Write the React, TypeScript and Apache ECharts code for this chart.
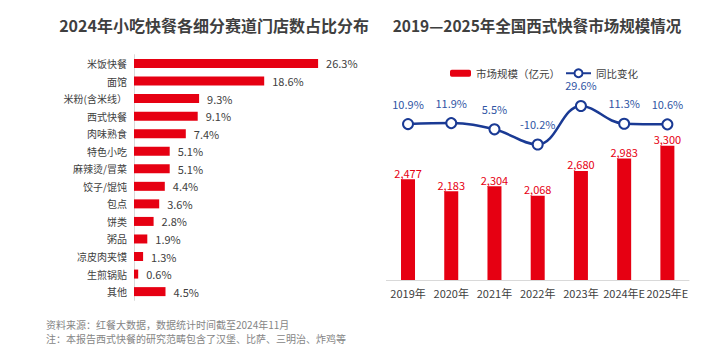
import React, { useEffect, useRef } from "react";
import * as echarts from "echarts";

const snackCategories = [
  "米饭快餐", "面馆", "米粉(含米线）", "西式快餐", "肉味熟食", "特色小吃", "麻辣烫/冒菜",
  "饺子/馄饨", "包点", "饼类", "粥品", "凉皮肉夹馍", "生煎锅贴", "其他",
];
const snackShares = [26.3, 18.6, 9.3, 9.1, 7.4, 5.1, 5.1, 4.4, 3.6, 2.8, 1.9, 1.3, 0.6, 4.5];

const years = ["2019年", "2020年", "2021年", "2022年", "2023年", "2024年E", "2025年E"];
const marketSize = [2477, 2183, 2304, 2068, 2680, 2983, 3300];
const yoyChange = [10.9, 11.9, 5.5, -10.2, 29.6, 11.3, 10.6];

const FONT = "'Noto Sans CJK SC', 'Noto Sans', sans-serif";
const RED = "#e60012";
const BLUE = "#1a3a94";
const TEXT = "#404040";

export default function App() {
  const ref = useRef<HTMLDivElement>(null);
  useEffect(() => {
    if (!ref.current) return;
    const chart = echarts.init(ref.current, undefined, { renderer: "svg" });
    chart.setOption({
      animation: false,
      textStyle: { fontFamily: FONT },
      graphic: [
        {
          type: "text", x: 214, y: 25,
          style: { text: "2024年小吃快餐各细分赛道门店数占比分布", font: `bold 16px ${FONT}`, fill: "#3f3f3f", textAlign: "center", textVerticalAlign: "middle" },
        },
        {
          type: "text", x: 537, y: 25,
          style: { text: "2019—2025年全国西式快餐市场规模情况", font: `bold 15.5px ${FONT}`, fill: "#3f3f3f", textAlign: "center", textVerticalAlign: "middle" },
        },
        {
          type: "text", x: 46, y: 324,
          style: { text: "资料来源：红餐大数据，数据统计时间截至2024年11月", font: `10px ${FONT}`, fill: "#858585", textVerticalAlign: "middle" },
        },
        {
          type: "text", x: 46, y: 338,
          style: { text: "注：本报告西式快餐的研究范畴包含了汉堡、比萨、三明治、炸鸡等", font: `10px ${FONT}`, fill: "#858585", textVerticalAlign: "middle" },
        },
      ],
      legend: [
        {
          data: ["市场规模（亿元）"], left: 445, top: 63, itemWidth: 21, itemHeight: 7, itemGap: 6,
          textStyle: { fontSize: 10.5, color: TEXT, fontFamily: FONT },
        },
        {
          data: ["同比变化"], left: 560, top: 63, itemWidth: 25, itemHeight: 10, itemGap: 6,
          textStyle: { fontSize: 10.5, color: TEXT, fontFamily: FONT },
        },
      ],
      grid: [
        { left: 134, top: 54.7, width: 210, height: 245.7 },
        { left: 386.4, top: 76.5, width: 302.6, height: 203.5 },
      ],
      xAxis: [
        { gridIndex: 0, type: "value", min: 0, max: 30, show: false },
        {
          gridIndex: 1, type: "category", data: years,
          axisLine: { lineStyle: { color: "#d9d9d9" } }, axisTick: { show: false },
          axisLabel: { interval: 0, fontSize: 11, color: TEXT, margin: 7, fontFamily: FONT },
        },
      ],
      yAxis: [
        {
          gridIndex: 0, type: "category", data: snackCategories, inverse: true,
          axisLine: { lineStyle: { color: "#d9d9d9" } }, axisTick: { show: false },
          axisLabel: { fontSize: 10, color: TEXT, margin: 7, fontFamily: FONT },
        },
        { gridIndex: 1, type: "value", min: 0, max: 5000, show: false },
        { gridIndex: 1, type: "value", min: -150, max: 60, show: false },
      ],
      series: [
        {
          type: "bar", xAxisIndex: 0, yAxisIndex: 0, data: snackShares, barWidth: 9,
          itemStyle: { color: RED },
          label: { show: true, position: "right", distance: 8, formatter: "{c}%", fontSize: 11, color: TEXT, fontFamily: FONT },
        },
        {
          name: "市场规模（亿元）", type: "bar", xAxisIndex: 1, yAxisIndex: 1, data: marketSize, barWidth: 14,
          itemStyle: { color: RED },
          label: {
            show: true, position: "top", distance: 1, fontSize: 11, color: RED, fontFamily: FONT,
            formatter: (p: any) => Number(p.value).toLocaleString("en-US"),
          },
        },
        {
          name: "同比变化", type: "line", xAxisIndex: 1, yAxisIndex: 2, data: yoyChange,
          smooth: 0.4, symbol: "emptyCircle", symbolSize: 10,
          lineStyle: { color: BLUE, width: 2.5 },
          itemStyle: { color: BLUE, borderColor: BLUE, borderWidth: 2.5 },
          label: { show: true, position: "top", distance: 9, formatter: "{c}%", fontSize: 11, color: "#2f55a4", fontFamily: FONT },
        },
      ],
    });
    return () => chart.dispose();
  }, []);
  return (
    <div
      ref={ref}
      style={{ position: "fixed", left: 0, top: 0, width: 724, height: 360, background: "#fff" }}
    />
  );
}
